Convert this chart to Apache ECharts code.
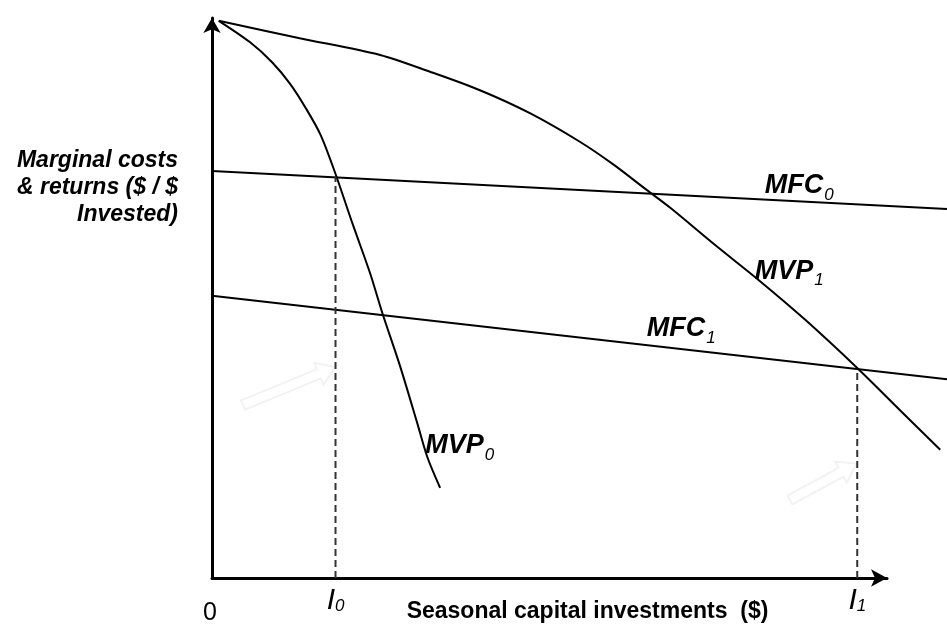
<!DOCTYPE html>
<html>
<head>
<meta charset="utf-8">
<script src="https://cdn.jsdelivr.net/npm/echarts@6/dist/echarts.min.js"></script>
<style>html,body{margin:0;padding:0;background:#fff}#c{width:947px;height:627px}</style>
</head>
<body>
<div id="c"></div>
<script>
// Curves (x: investment units, axis arrow at 100; y: $ per $ 0-100)
const MVP0 = [[1.0,99.5],[5.6,95.7],[8.9,92.1],[11.6,88.2],[13.9,83.9],[16.1,79.1],[18.2,72.5],[20.9,63.0],[23.4,54.5],[25.3,47.1],[27.9,37.7],[30.4,27.7],[31.9,21.6],[33.8,16.1]];
const MVP1 = [[1.0,99.5],[13.0,96.4],[24.9,93.4],[32.3,90.4],[39.7,87.1],[47.1,83.0],[54.5,77.9],[59.4,73.9],[64.4,69.3],[67.9,66.1],[74.5,59.5],[81.2,53.0],[87.9,46.1],[95.6,37.5],[101.9,30.0],[107.9,22.9]];
const MFC0 = [[0,72.7],[108.9,65.9]];
const MFC1 = [[0,50.4],[108.9,35.5]];
const I0 = 18.3, I0_top = 71.6;
const I1 = 95.6, I1_top = 37.3;
const xTicks = [0, I0, I1];
const curveLabels = [
  {name: 'MFC', sub: '0', value: [81.9, 70.0]},
  {name: 'MVP', sub: '1', value: [80.4, 54.8]},
  {name: 'MFC', sub: '1', value: [64.4, 44.5]},
  {name: 'MVP', sub: '0', value: [31.6, 23.6]}
];
const xTitle = 'Seasonal capital investments  ($)';
const yTitle = 'Marginal costs\n& returns ($ / $\nInvested)';
const X_AXIS_END = 100, DATA_X_END = 108.9;

const chart = echarts.init(document.getElementById('c'), null, {renderer: 'canvas'});
const lineStyle = {color: '#000', width: 2};
const mk = (name, data, extra) => Object.assign({
  type: 'line', name, data, showSymbol: false, symbol: 'none', clip: false,
  xAxisIndex: 0, yAxisIndex: 0,
  lineStyle, silent: true, animation: false
}, extra || {});
const F = 'Liberation Sans';

// faint decorative block arrow (pointing right in local coords)
function faintArrow(x, y, len, rot) {
  const h = 18;
  return {
    type: 'polygon', x, y, rotation: rot, silent: true,
    shape: {points: [[0, -5], [len - h, -5], [len - h, -12], [len, 0], [len - h, 12], [len - h, 5], [0, 5]]},
    style: {fill: 'none', stroke: '#f2f2f2', lineWidth: 2}
  };
}

chart.setOption({
  animation: false,
  backgroundColor: '#fff',
  grid: [
    {left: 212, right: 0, top: 18, bottom: 49, outerBoundsMode: 'none', containLabel: false},
    {left: 212, right: 60, top: 18, bottom: 49, outerBoundsMode: 'none', containLabel: false}
  ],
  xAxis: [{
    gridIndex: 0, type: 'value', min: 0, max: DATA_X_END, show: false
  }, {
    gridIndex: 1, type: 'value', min: 0, max: X_AXIS_END,
    splitLine: {show: false},
    axisTick: {show: false},
    axisLine: {show: true, onZero: false, lineStyle: {color: '#000', width: 3}, symbol: ['none', 'arrow'], symbolSize: [13, 16]},
    axisLabel: {
      customValues: xTicks,
      margin: 9,
      formatter: function (v) {
        if (v === 0) return '{z|0}';
        return v === I0 ? '{i|I}{s|0}' : '{i|I}{s|1}';
      },
      rich: {
        z: {fontFamily: F, fontSize: 25, lineHeight: 28, color: '#000', padding: [25, 4, 0, 0]},
        i: {fontFamily: F, fontStyle: 'italic', fontSize: 30, lineHeight: 36, color: '#000', padding: [4, 0, 13, 0]},
        s: {fontFamily: F, fontStyle: 'italic', fontSize: 17, lineHeight: 20, color: '#000', padding: [18, 0, 15, 0]}
      }
    },
    name: xTitle,
    nameLocation: 'middle',
    nameGap: 22,
    nameMoveOverlap: false,
    nameTextStyle: {fontFamily: F, fontWeight: 'bold', fontSize: 23, color: '#000', verticalAlign: 'top', padding: [0, 0, 0, 76]}
  }],
  yAxis: [{
    gridIndex: 0, type: 'value', min: 0, max: 100, show: false
  }, {
    gridIndex: 1, type: 'value', min: 0, max: 100,
    splitLine: {show: false},
    axisTick: {show: false},
    axisLabel: {show: false},
    axisLine: {show: true, lineStyle: {color: '#000', width: 3}, symbol: ['none', 'arrow'], symbolSize: [13, 15]}
  }],
  graphic: [{
    type: 'text', x: 178, y: 147,
    style: {
      text: yTitle, align: 'right', verticalAlign: 'top',
      font: 'italic bold 23px "Liberation Sans"', fill: '#000', lineHeight: 27
    }
  },
  faintArrow(243, 405, 100, 0.39),
  faintArrow(790, 500, 76, 0.5)
  ],
  series: [
    mk('MFC0', MFC0),
    mk('MFC1', MFC1),
    mk('MVP0', MVP0, {smooth: 0.3}),
    mk('MVP1', MVP1, {smooth: 0.3}),
    mk('I0', [[I0, 0], [I0, I0_top]], {lineStyle: {color: '#333', width: 2, type: [7, 4]}}),
    mk('I1', [[I1, 0], [I1, I1_top]], {lineStyle: {color: '#333', width: 2, type: [7, 4]}}),
    {
      type: 'scatter', xAxisIndex: 0, yAxisIndex: 0, symbolSize: 0, silent: true, data: curveLabels,
      itemStyle: {color: '#000'},
      label: {
        show: true, position: [0, 0], align: 'left', verticalAlign: 'middle', color: '#000', opacity: 1,
        formatter: p => '{m|' + p.data.name + '}{s|' + p.data.sub + '}',
        rich: {
          m: {fontFamily: F, fontStyle: 'italic', fontWeight: 'bold', fontSize: 27, lineHeight: 37, color: '#000'},
          s: {fontFamily: F, fontStyle: 'italic', fontSize: 17, lineHeight: 18, color: '#000', padding: [19, 0, 0, 1]}
        }
      }
    }
  ]
});
</script>
</body>
</html>
